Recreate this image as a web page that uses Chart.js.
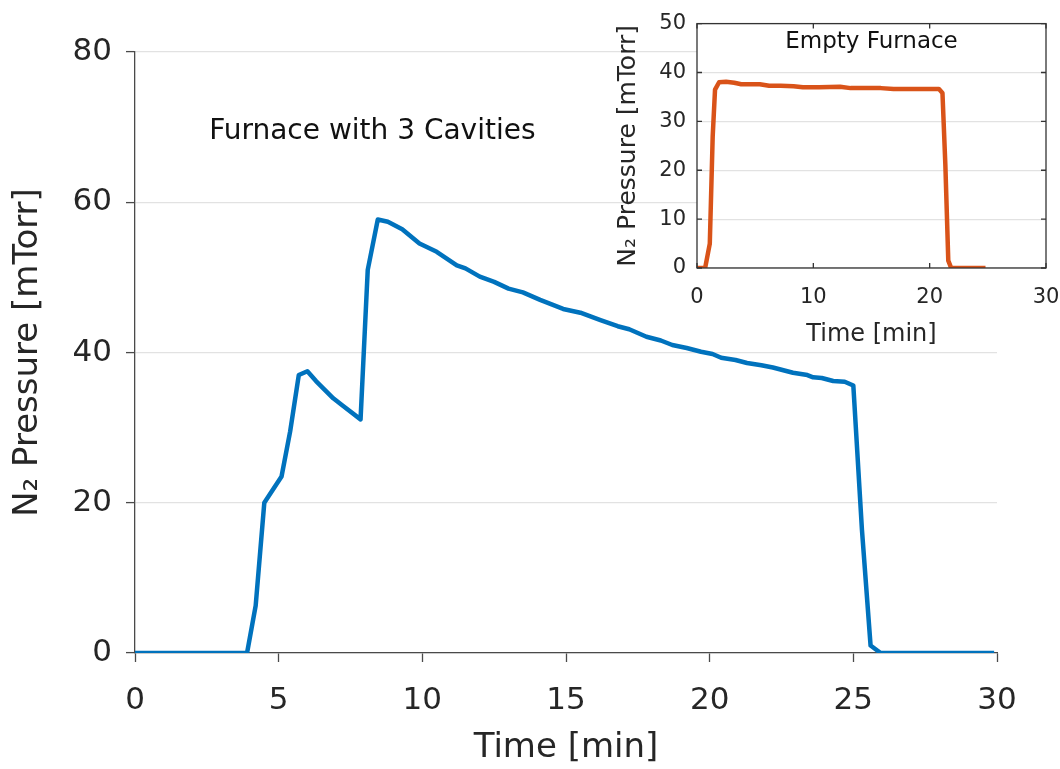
<!DOCTYPE html>
<html>
<head>
<meta charset="utf-8">
<script src="https://cdn.jsdelivr.net/npm/chart.js@4.4.1/dist/chart.umd.min.js"></script>
<style>
  html, body { margin: 0; padding: 0; background: #ffffff; }
  #wrap { position: relative; width: 1060px; height: 769px; overflow: hidden; }
  #main { position: absolute; left: 0; top: 0; }
  #inset { position: absolute; left: 590px; top: 0; }
</style>
</head>
<body>
<div id="wrap">
  <canvas id="main" width="1060" height="769"></canvas>
  <canvas id="inset" width="487" height="360"></canvas>
</div>
<script>
// ---- Main chart data: Furnace with 3 Cavities ----
const cavityTime = [0, 1, 2, 3, 3.9, 4.2, 4.5, 5.1, 5.4, 5.7, 6.0, 6.3, 6.9, 7.2, 7.85, 8.1, 8.45, 8.8, 9.3, 9.9, 10.5, 11.2, 11.5, 12.0, 12.5, 13.0, 13.5, 14.1, 14.5, 14.9, 15.5, 16.2, 16.8, 17.2, 17.8, 18.3, 18.7, 19.2, 19.7, 20.1, 20.4, 20.9, 21.3, 21.8, 22.2, 22.6, 22.9, 23.4, 23.6, 23.9, 24.3, 24.7, 25.0, 25.3, 25.6, 25.95, 27, 28, 29, 29.9];
const cavityPressure = [0, 0, 0, 0, 0, 6.3, 20, 23.5, 29.5, 37, 37.5, 36.2, 33.9, 33, 31.1, 51, 57.7, 57.4, 56.4, 54.5, 53.4, 51.6, 51.2, 50.1, 49.4, 48.5, 48, 47, 46.4, 45.8, 45.3, 44.3, 43.5, 43.1, 42.1, 41.6, 41, 40.6, 40.1, 39.8, 39.3, 39.0, 38.6, 38.3, 38.0, 37.6, 37.3, 37.0, 36.7, 36.6, 36.2, 36.1, 35.6, 16.4, 1.0, 0, 0, 0, 0, 0];

// ---- Inset data: Empty Furnace ----
const emptyTime = [0, 0.7, 1.1, 1.35, 1.55, 1.9, 2.5, 3.2, 3.8, 4.5, 5.4, 6.2, 7.2, 8.3, 9.1, 10.5, 12.3, 13.2, 14.5, 15.8, 16.9, 18.5, 20.0, 20.8, 21.1, 21.35, 21.6, 21.85, 23, 24.8];
const emptyPressure = [0, 0, 5, 27, 36.5, 38.0, 38.1, 37.9, 37.6, 37.6, 37.6, 37.3, 37.3, 37.2, 37.0, 37.0, 37.1, 36.8, 36.8, 36.8, 36.6, 36.6, 36.6, 36.6, 35.8, 21, 1.5, 0, 0, 0];

// ---- Tick labels / text ----
const mainXTicks = [0, 5, 10, 15, 20, 25, 30];
const mainYTicks = [0, 20, 40, 60, 80];
const insetXTicks = [0, 10, 20, 30];
const insetYTicks = [0, 10, 20, 30, 40, 50];
const xTitle = 'Time [min]';
const yTitle = 'N\u2082 Pressure [mTorr]';
const mainLabel = 'Furnace with 3 Cavities';
const insetLabel = 'Empty Furnace';

const FONT = '"DejaVu Sans", "Liberation Sans", sans-serif';
const TXT = '#262626';
const AXIS = '#4a4a4a';
const GRID = '#e2e2e2';

function pts(xs, ys) { return xs.map((x, i) => ({ x: x, y: ys[i] })); }

Chart.defaults.font.family = FONT;
Chart.defaults.color = TXT;

// main annotation plugin
const mainText = {
  id: 'mainText',
  afterDatasetsDraw(chart) {
    const { ctx, scales } = chart;
    ctx.save();
    ctx.font = '28px ' + FONT;
    ctx.fillStyle = '#111';
    ctx.textAlign = 'center';
    ctx.textBaseline = 'alphabetic';
    ctx.fillText(mainLabel, scales.x.getPixelForValue(8.26), scales.y.getPixelForValue(68.4));
    ctx.restore();
  }
};

new Chart(document.getElementById('main'), {
  type: 'line',
  data: {
    datasets: [{
      data: pts(cavityTime, cavityPressure),
      borderColor: '#0072BD',
      borderWidth: 4.5,
      pointRadius: 0,
      tension: 0,
      borderJoinStyle: 'round',
      fill: false
    }]
  },
  options: {
    responsive: false,
    animation: false,
    devicePixelRatio: 1,
    layout: { padding: { left: 0, top: 52, right: 63, bottom: 0 } },
    plugins: { legend: { display: false }, tooltip: { enabled: false } },
    scales: {
      x: {
        type: 'linear', min: 0, max: 30,
        afterBuildTicks(s) { s.ticks = mainXTicks.map(v => ({ value: v })); },
        afterFit(s) { s.height = 116; },
        grid: { drawOnChartArea: false, drawTicks: true, tickLength: 9, tickColor: AXIS, tickWidth: 1.3 },
        border: { color: AXIS, width: 1.3 },
        ticks: { font: { size: 31 }, color: TXT, padding: 20, maxRotation: 0 },
        title: { display: true, text: xTitle, font: { size: 34 }, color: TXT, padding: { top: 0, bottom: 0 } }
      },
      y: {
        type: 'linear', min: 0, max: 80,
        afterBuildTicks(s) { s.ticks = mainYTicks.map(v => ({ value: v })); },
        afterFit(s) { s.width = 135; },
        grid: { drawOnChartArea: true, color: GRID, lineWidth: 1.2, drawTicks: true, tickLength: 9, tickColor: AXIS, tickWidth: 1.3 },
        border: { color: AXIS, width: 1.3 },
        ticks: { font: { size: 31 }, color: TXT, padding: 14 },
        title: { display: true, text: yTitle, font: { size: 34 }, color: TXT, padding: { top: 8, bottom: 0 } }
      }
    }
  },
  plugins: [mainText]
});

// inset plugin: white plot background, full box, inward ticks, label
const insetDecor = {
  id: 'insetDecor',
  beforeDraw(chart) {
    const { ctx, chartArea: a } = chart;
    ctx.save();
    ctx.fillStyle = '#ffffff';
    ctx.fillRect(a.left, a.top, a.right - a.left, a.bottom - a.top);
    ctx.restore();
  },
  afterDraw(chart) {
    const { ctx, chartArea: a, scales } = chart;
    ctx.save();
    ctx.strokeStyle = '#333333';
    ctx.lineWidth = 1.3;
    ctx.strokeRect(a.left, a.top, a.right - a.left, a.bottom - a.top);
    const L = 5;
    ctx.beginPath();
    scales.x.ticks.forEach(t => {
      const px = scales.x.getPixelForValue(t.value);
      ctx.moveTo(px, a.bottom); ctx.lineTo(px, a.bottom - L);
      ctx.moveTo(px, a.top); ctx.lineTo(px, a.top + L);
    });
    scales.y.ticks.forEach(t => {
      const py = scales.y.getPixelForValue(t.value);
      ctx.moveTo(a.left, py); ctx.lineTo(a.left + L, py);
      ctx.moveTo(a.right, py); ctx.lineTo(a.right - L, py);
    });
    ctx.stroke();
    ctx.font = '23px ' + FONT;
    ctx.fillStyle = '#111';
    ctx.textAlign = 'center';
    ctx.textBaseline = 'alphabetic';
    ctx.fillText(insetLabel, scales.x.getPixelForValue(15), scales.y.getPixelForValue(45));
    ctx.restore();
  }
};

new Chart(document.getElementById('inset'), {
  type: 'line',
  data: {
    datasets: [{
      data: pts(emptyTime, emptyPressure),
      borderColor: '#D95319',
      borderWidth: 4.5,
      pointRadius: 0,
      tension: 0,
      borderJoinStyle: 'round',
      fill: false
    }]
  },
  options: {
    responsive: false,
    animation: false,
    devicePixelRatio: 1,
    layout: { padding: { left: 0, top: 20, right: 31, bottom: 0 } },
    plugins: { legend: { display: false }, tooltip: { enabled: false } },
    scales: {
      x: {
        type: 'linear', min: 0, max: 30,
        afterBuildTicks(s) { s.ticks = insetXTicks.map(v => ({ value: v })); },
        afterFit(s) { s.height = 92; },
        grid: { drawOnChartArea: false, drawTicks: false },
        border: { display: false },
        ticks: { font: { size: 21 }, color: TXT, padding: 17, maxRotation: 0 },
        title: { display: true, text: xTitle, font: { size: 24 }, color: TXT, padding: { top: 0, bottom: 11 } }
      },
      y: {
        type: 'linear', min: 0, max: 50,
        afterBuildTicks(s) { s.ticks = insetYTicks.map(v => ({ value: v })); },
        afterFit(s) { s.width = 107; },
        grid: { drawOnChartArea: true, color: GRID, lineWidth: 1.2, drawTicks: false },
        border: { display: false },
        ticks: { font: { size: 21 }, color: TXT, padding: 11 },
        title: { display: true, text: yTitle, font: { size: 25 }, color: TXT, padding: { top: 23, bottom: 0 } }
      }
    }
  },
  plugins: [insetDecor]
});
</script>
</body>
</html>
